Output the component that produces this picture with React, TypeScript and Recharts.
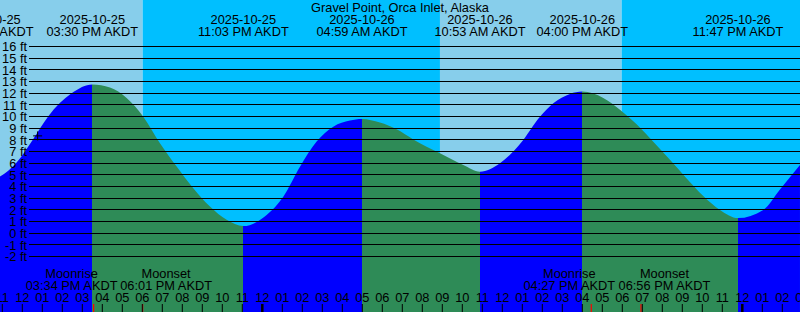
import React from "react";
import {
  ComposedChart, Area, XAxis, YAxis, ReferenceArea, ReferenceLine, ReferenceDot
} from "recharts";

const W = 800;
const H = 312;
const FONT = "'Liberation Sans', Arial, sans-serif";
const FS = 12.8;

const title = "Gravel Point, Orca Inlet, Alaska";
const zone = "AKDT";

// tide height (time, feet)
const curveTimes = [
  "2025-10-25 10:17", "2025-10-25 10:53", "2025-10-25 11:41", "2025-10-25 12:31",
  "2025-10-25 13:17", "2025-10-25 14:28", "2025-10-25 15:30", "2025-10-25 16:23",
  "2025-10-25 17:13", "2025-10-25 18:03", "2025-10-25 18:53", "2025-10-25 19:43",
  "2025-10-25 20:33", "2025-10-25 21:23", "2025-10-25 22:13", "2025-10-25 23:03",
  "2025-10-26 00:13", "2025-10-26 01:03", "2025-10-26 01:53", "2025-10-26 02:43",
  "2025-10-26 03:33", "2025-10-26 04:23", "2025-10-26 04:59", "2025-10-26 05:53",
  "2025-10-26 06:43", "2025-10-26 07:33", "2025-10-26 08:53", "2025-10-26 10:03",
  "2025-10-26 10:53", "2025-10-26 11:53", "2025-10-26 12:53", "2025-10-26 13:53",
  "2025-10-26 14:33", "2025-10-26 15:23", "2025-10-26 16:00", "2025-10-26 17:03",
  "2025-10-26 17:53", "2025-10-26 18:43", "2025-10-26 19:33", "2025-10-26 20:23",
  "2025-10-26 21:13", "2025-10-26 22:03", "2025-10-26 22:53", "2025-10-26 23:47",
  "2025-10-27 01:03", "2025-10-27 01:53", "2025-10-27 02:53",
];
const curveFeet = [
  4.4, 4.86, 6, 8,
  10, 12, 12.75, 12.5,
  11.6, 10, 7.72, 5.72,
  3.86, 2.29, 1.15, 0.62,
  1.57, 3.14, 5.71, 7.86,
  9.14, 9.66, 9.8, 9.49,
  8.92, 8.05, 6.86, 5.86,
  5.28, 6.0, 7.65, 10.0,
  11.15, 11.95, 12.15, 11.6,
  10.6, 9.35, 7.85, 6.3,
  4.7, 3.2, 2.0, 1.3,
  2.0, 3.75, 5.86,
];

// high / low tides (labelled along the top)
const tideTimes = [
  "2025-10-25 10:17", "2025-10-25 15:30", "2025-10-25 23:03", "2025-10-26 04:59",
  "2025-10-26 10:53", "2025-10-26 16:00", "2025-10-26 23:47",
];
const tideKinds = ["low", "high", "low", "high", "low", "high", "low"];

// sunrise, sunset, sunrise, ...
const sunTimes = [
  "2025-10-25 08:50", "2025-10-25 18:01", "2025-10-26 08:53",
  "2025-10-26 17:58", "2025-10-27 08:56",
];

const moonTimes = ["2025-10-25 15:34", "2025-10-25 18:01", "2025-10-26 16:27", "2025-10-26 18:56"];
const moonKinds = ["Moonrise", "Moonset", "Moonrise", "Moonset"];

const feetTicks = [-2, -1, 0, 1, 2, 3, 4, 5, 6, 7, 8, 9, 10, 11, 12, 13, 14, 15, 16];
// hours from midnight 2025-10-26
const hourTicks = [
  -13, -12, -11, -10, -9, -8, -7, -6, -5, -4, -3, -2, -1, 0, 1, 2, 3, 4, 5, 6, 7,
  8, 9, 10, 11, 12, 13, 14, 15, 16, 17, 18, 19, 20, 21, 22, 23, 24, 25, 26, 27,
];

const nowTime = "2025-10-25 12:46";
const nowFeet = 8.35;

const xDomain: [number, number] = [-13.115, 26.885];
const yDomain: [number, number] = [-6.75, 20];

const DAY = "#87ceeb";
const NIGHT = "#00bfff";
const RISE = "#0000ff";
const FALL = "#2e8b57";

const pad = (n: number) => (n < 10 ? "0" + n : "" + n);

function hoursOf(s: string) {
  const m = s.match(/(\d+)-(\d+)-(\d+) (\d+):(\d+)/)!;
  return (Date.UTC(+m[1], +m[2] - 1, +m[3], +m[4], +m[5]) - Date.UTC(2025, 9, 26)) / 3600000;
}

function clock(s: string) {
  const [, hm] = s.split(" ");
  const [hh, mm] = hm.split(":").map(Number);
  return `${pad(hh % 12 || 12)}:${pad(mm)} ${hh < 12 ? "AM" : "PM"} ${zone}`;
}

const rows = curveTimes.map((s, i) => ({ t: hoursOf(s), ft: curveFeet[i] }));

// rise / fall colour under the curve, switching at each high and low
const frac = (t: number) =>
  Math.min(1, Math.max(0, (t - xDomain[0]) / (xDomain[1] - xDomain[0])));
const fillStops: { o: number; c: string }[] = [];
let cur = tideKinds[0] === "low" ? FALL : RISE;
fillStops.push({ o: 0, c: cur });
tideTimes.forEach((s, i) => {
  const f = frac(hoursOf(s));
  fillStops.push({ o: f, c: cur });
  cur = tideKinds[i] === "low" ? RISE : FALL;
  fillStops.push({ o: f, c: cur });
});
fillStops.push({ o: 1, c: cur });

const skyBands = sunTimes.slice(0, -1).map((s, i) => ({
  x1: hoursOf(s), x2: hoursOf(sunTimes[i + 1]), fill: i % 2 === 0 ? DAY : NIGHT,
}));

const textStyle = { fontFamily: FONT, fontSize: FS, fill: "#000" };

function FeetTick(props: any) {
  const { y, payload } = props;
  return (
    <g>
      <text x={27} y={y + 4.6} textAnchor="end" {...textStyle}>{`${payload.value} ft`}</text>
      <line x1={29} x2={W} y1={y} y2={y} stroke="#000" strokeWidth={1} shapeRendering="crispEdges" />
    </g>
  );
}

function HourTick(props: any) {
  const { x, payload } = props;
  const hod = ((payload.value % 24) + 24) % 24;
  const midnight = hod === 0;
  return (
    <g>
      <text x={x} y={301.5} textAnchor="middle" {...textStyle}>{pad(hod % 12 || 12)}</text>
      <line x1={x} x2={x} y1={304} y2={H} stroke="#000" strokeWidth={midnight ? 2.5 : 1} />
    </g>
  );
}

function TideLabel({ viewBox, when }: any) {
  const x = viewBox.x;
  return (
    <g>
      <text x={x} y={24} textAnchor="middle" {...textStyle}>{when.split(" ")[0]}</text>
      <text x={x} y={36} textAnchor="middle" {...textStyle}>{clock(when)}</text>
    </g>
  );
}

function MoonLabel({ viewBox, when, kind }: any) {
  const x = viewBox.x;
  const cx = kind === "Moonrise" ? x - 22 : x + 23.5;
  return (
    <g>
      <line x1={x} x2={x} y1={304} y2={H} stroke="#ff0000" strokeWidth={1.2} />
      <text x={cx} y={278} textAnchor="middle" {...textStyle}>{kind}</text>
      <text x={cx} y={290} textAnchor="middle" {...textStyle}>{clock(when)}</text>
    </g>
  );
}

function Plus(props: any) {
  const { cx, cy } = props;
  return (
    <path d={`M${cx - 4.5},${cy}H${cx + 4.5}M${cx},${cy - 4.5}V${cy + 4.5}`}
      stroke="#000" strokeWidth={1} fill="none" />
  );
}

export default function App() {
  return (
    <div style={{ position: "absolute", left: 0, top: 0, width: W, height: H }}>
      <ComposedChart width={W} height={H} data={rows} margin={{ top: 0, right: 0, bottom: 0, left: 0 }}>
        <defs>
          <linearGradient id="tideFill" gradientUnits="userSpaceOnUse" x1={0} y1={0} x2={W} y2={0}>
            {fillStops.map((s, i) => (
              <stop key={i} offset={s.o} stopColor={s.c} />
            ))}
          </linearGradient>
        </defs>
        {skyBands.map((b, i) => (
          <ReferenceArea key={`sky${i}`} x1={b.x1} x2={b.x2} fill={b.fill} fillOpacity={1}
            stroke="none" ifOverflow="hidden" zIndex={-10} />
        ))}
        <Area dataKey="ft" type="monotone" stroke="none" fill="url(#tideFill)" fillOpacity={1}
          baseValue={yDomain[0]} isAnimationActive={false} dot={false} activeDot={false} />
        {tideTimes.map((s) => (
          <ReferenceLine key={s} x={hoursOf(s)} stroke="none" ifOverflow="visible"
            label={(p: any) => <TideLabel {...p} when={s} />} />
        ))}
        {moonTimes.map((s, i) => (
          <ReferenceLine key={`m${s}`} x={hoursOf(s)} stroke="none" ifOverflow="visible"
            label={(p: any) => <MoonLabel {...p} when={s} kind={moonKinds[i]} />} />
        ))}
        <ReferenceDot x={hoursOf(nowTime)} y={nowFeet} r={4} shape={(p: any) => <Plus {...p} />} />
        <XAxis type="number" dataKey="t" domain={xDomain} allowDataOverflow ticks={hourTicks}
          interval={0} mirror height={30} axisLine={false} tickLine={false}
          tick={(p: any) => <HourTick {...p} />} />
        <YAxis type="number" domain={yDomain} allowDataOverflow ticks={feetTicks}
          interval={0} mirror width={30} axisLine={false} tickLine={false}
          tick={(p: any) => <FeetTick {...p} />} />
      </ComposedChart>
      <div style={{
        position: "absolute", left: 0, top: 0, width: W, textAlign: "center",
        fontFamily: FONT, fontSize: FS, lineHeight: "normal", color: "#000",
      }}>
        {title}
      </div>
    </div>
  );
}
